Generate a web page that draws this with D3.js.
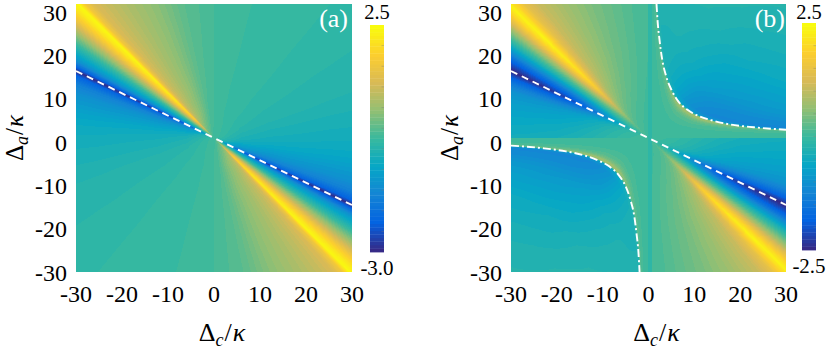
<!DOCTYPE html>
<html lang="en">
<head>
<meta charset="UTF-8">
<title>Delta_a vs Delta_c maps</title>
<script src="https://d3js.org/d3.v7.min.js"></script>
<style>
  body { margin: 0; background: #ffffff; }
</style>
</head>
<body>
<svg width="830" height="349" font-family="'Liberation Serif', 'Times New Roman', 'DejaVu Serif', serif"></svg>
<script>
// ---------- values ----------
var ticks = [-30, -20, -10, 0, 10, 20, 30];
var panelNames = ["(a)", "(b)"];
var cbarA = [-3.0, 2.5], cbarB = [-2.5, 2.5];
var cbarTextA = ["2.5", "-3.0"], cbarTextB = ["2.5", "-2.5"];

// panel (a): value along each direction, phi = atan(Δa/Δc) in degrees
var phiA = [-90, -80, -75, -68, -58, -52, -49, -47, -45.5, -44, -42, -40, -37.5, -35, -32, -30, -28, -26.6, -25, -22, -18, -10, -5, 0, 18, 34, 45, 58, 75, 80, 90];
var valA = [-0.12, -0.05, 0.1, 0.36, 0.68, 0.95, 1.15, 1.6, 2.45, 2.2, 1.7, 1.1, 0.4, -0.25, -0.9, -1.4, -2.2, -3.0, -2.3, -1.75, -1.4, -1.0, -0.85, -0.75, -0.52, -0.42, -0.36, -0.3, -0.25, -0.2, -0.2];
var radA = [0, 3, 6, 12, 25, 45];
var keepA = [0, 0.45, 0.75, 0.9, 0.97, 1];
var midA = -0.2;

// panel (b), quadrants Δc·Δa < 0: value along direction + fade to the middle
var phiB = [-90, -85, -78, -68, -59, -55, -51, -48, -46, -44.5, -43, -41, -39, -37, -35, -33, -31, -29, -26.6, -24.5, -22, -19, -15, -8, 0];
var valB = [0.08, 0.12, 0.25, 0.45, 0.72, 0.9, 1.1, 1.45, 1.95, 2.35, 2.0, 1.4, 0.75, 0.2, -0.3, -0.9, -1.5, -2.0, -2.5, -1.9, -1.4, -1.0, -0.8, -0.6, -0.45];
var radB = [0, 4, 8, 12, 16, 20, 26, 32, 45];
var keepB = [0, 0.1, 0.3, 0.55, 0.75, 0.88, 0.96, 1, 1];
var midB = 0.05;

// panel (b), quadrants Δc·Δa > 0: value across the hyperbola, q = Δc·Δa / 54
var hypK = 54;
var qB = [0, 0.4, 0.65, 0.8, 0.9, 0.97, 1.0, 1.04, 1.25, 2, 3, 4.5, 7, 11, 17];
var hB = [0.05, 0.08, 0.2, 0.45, 0.75, 0.6, 0.0, -0.9, -1.2, -1.1, -0.9, -0.75, -0.55, -0.4, -0.28];
var psiB = [0, 4, 8, 15, 20, 30, 35, 45, 60, 75, 90];
var insideB = [0.2, 0.35, 0.6, 0.9, 1, 1, 1, 1, 0.7, 0.35, 0.2];
var outsideB = [1, 1, 1, 1, 1, 0.95, 0.9, 0.8, 0.55, 0.35, 0.25];
var stripeB = [0, 0.8], stripeVal = -0.1;

// white lines
var dashC = [-30, 30], dashA = [15, -15];
var hypUpC = [1.75, 2.0, 2.4, 3.0, 3.8, 5.0, 6.5, 8.5, 11, 14, 18, 23, 30];
var hypUpA = [30, 26, 22, 17.5, 14, 10.8, 8.2, 6.3, 4.9, 3.9, 3.0, 2.4, 1.85];
var hypLoC = [-30, -23, -18, -14, -11, -8.5, -6.5, -5.0, -3.9, -3.1, -2.6, -2.2, -1.95];
var hypLoA = [-1.7, -2.3, -3.0, -3.9, -5.0, -6.4, -8.3, -10.8, -14, -17.5, -21.5, -25.5, -30];

var parula = ["#352a87", "#0363e1", "#1485d4", "#06a7c6", "#38b99e", "#92bf73", "#d9ba56", "#fcce2e", "#f9fb0e"];

// ---------- setup ----------
var svg = d3.select("svg");
var ramp = d3.quantize(d3.piecewise(d3.interpolateRgb, parula), 64);
var rampRgb = ramp.map(function (c) { return d3.rgb(c); });

var profA = d3.scaleLinear().domain(phiA).range(valA).clamp(true);
var fadeA = d3.scaleLinear().domain(radA).range(keepA).clamp(true);
var profB = d3.scaleLinear().domain(phiB).range(valB).clamp(true);
var fadeB = d3.scaleLinear().domain(radB).range(keepB).clamp(true);
var hypB = d3.scaleLinear().domain(qB).range(hB).clamp(true);
var inAmp = d3.scaleLinear().domain(psiB).range(insideB).clamp(true);
var outAmp = d3.scaleLinear().domain(psiB).range(outsideB).clamp(true);

function dirAngle(dc, da) {
    if (dc === 0) return da >= 0 ? 90 : -90;
    return Math.atan(da / dc) * 180 / Math.PI;
}

function valueA(dc, da) {
    var r = Math.hypot(dc, da);
    return midA + fadeA(r) * (profA(dirAngle(dc, da)) - midA);
}

function valueB(dc, da) {
    if (dc >= stripeB[0] && dc <= stripeB[1]) return stripeVal;
    var r = Math.hypot(dc, da);
    if (dc * da <= 0) {
        return midB + fadeB(r) * (profB(dirAngle(dc, da)) - midB);
    }
    var q = dc * da / hypK;
    var psi = Math.atan(Math.abs(da) / Math.abs(dc)) * 180 / Math.PI;
    var amp = q < 1 ? inAmp(psi) : outAmp(psi);
    return midB + amp * (hypB(q) - midB);
}

var panels = [
    { name: panelNames[0], x0: 76, x1: 352, cb: cbarA, cbText: cbarTextA, cbx: 370, cby: [252, 25], value: valueA, labelEnd: 348 },
    { name: panelNames[1], x0: 511, x1: 786, cb: cbarB, cbText: cbarTextB, cbx: 802, cby: [250, 23], value: valueB, labelEnd: 785 }
];
var plotTop = 4, plotBottom = 272;

panels.forEach(function (p, k) {
    var x = d3.scaleLinear().domain([-30, 30]).range([p.x0, p.x1]);
    var y = d3.scaleLinear().domain([-30, 30]).range([plotBottom, plotTop]);
    var yTick = d3.scaleLinear().domain([-30, 30]).range([272.5, 12.8]);
    var color = d3.scaleQuantize().domain(p.cb).range(d3.range(64));
    var g = svg.append("g");

    // map cells, one per screen pixel
    var w = p.x1 - p.x0, h = plotBottom - plotTop;
    var canvas = document.createElement("canvas");
    canvas.width = w; canvas.height = h;
    var ctx = canvas.getContext("2d");
    var img = ctx.createImageData(w, h);
    for (var j = 0; j < h; j++) {
        var da = y.invert(plotTop + j + 0.5);
        for (var i = 0; i < w; i++) {
            var dc = x.invert(p.x0 + i + 0.5);
            var c = rampRgb[color(p.value(dc, da))];
            var o = (j * w + i) * 4;
            img.data[o] = c.r; img.data[o + 1] = c.g; img.data[o + 2] = c.b; img.data[o + 3] = 255;
        }
    }
    ctx.putImageData(img, 0, 0);
    g.append("image")
        .attr("x", p.x0).attr("y", plotTop)
        .attr("width", w).attr("height", h)
        .attr("href", canvas.toDataURL());

    var clipId = "clip" + k;
    svg.append("clipPath").attr("id", clipId)
        .append("rect").attr("x", p.x0).attr("y", plotTop).attr("width", w).attr("height", h);

    var line = d3.line()
        .x(function (d) { return x(d[0]); })
        .y(function (d) { return y(d[1]); });

    g.append("path")
        .attr("clip-path", "url(#" + clipId + ")")
        .attr("d", line(d3.zip(dashC, dashA)))
        .attr("fill", "none").attr("stroke", "#ffffff")
        .attr("stroke-width", 1.9).attr("stroke-dasharray", "7,5");

    if (k === 1) {
        var curve = line.curve(d3.curveMonotoneX);
        [d3.zip(hypUpC, hypUpA), d3.zip(hypLoC, hypLoA)].forEach(function (pts) {
            g.append("path")
                .attr("clip-path", "url(#" + clipId + ")")
                .attr("d", curve(pts))
                .attr("fill", "none").attr("stroke", "#ffffff")
                .attr("stroke-width", 1.9).attr("stroke-dasharray", "8,3,2,3");
        });
    }

    // panel tag
    g.append("text")
        .attr("x", p.labelEnd).attr("y", 27)
        .attr("text-anchor", "end")
        .attr("font-size", 26)
        .attr("fill", "#ffffff")
        .text(p.name);

    // tick labels
    g.selectAll(".xt").data(ticks).enter().append("text")
        .attr("x", function (d) { return x(d); })
        .attr("y", 302)
        .attr("text-anchor", "middle")
        .attr("font-size", 24)
        .text(function (d) { return d; });

    g.selectAll(".yt").data(ticks).enter().append("text")
        .attr("x", p.x0 - 9)
        .attr("y", function (d) { return yTick(d) + 8; })
        .attr("text-anchor", "end")
        .attr("font-size", 24)
        .text(function (d) { return d; });

    // axis titles
    var xt = g.append("text")
        .attr("x", (p.x0 + p.x1) / 2 + 8).attr("y", 341)
        .attr("text-anchor", "middle")
        .attr("font-size", 26);
    mathLabel(xt, "c");

    var yt = g.append("text")
        .attr("transform", "translate(" + (p.x0 - 53.5) + "," + ((plotTop + plotBottom) / 2) + ") rotate(-90)")
        .attr("text-anchor", "middle")
        .attr("font-size", 25);
    mathLabel(yt, "a");

    // colorbar
    var cy = d3.scaleLinear().domain(p.cb).range(p.cby);
    var step = (p.cb[1] - p.cb[0]) / 64;
    g.selectAll(".cb").data(d3.range(64)).enter().append("rect")
        .attr("x", p.cbx).attr("width", 14)
        .attr("y", function (d) { return cy(p.cb[0] + (d + 1) * step); })
        .attr("height", function (d) { return cy(p.cb[0] + d * step) - cy(p.cb[0] + (d + 1) * step) + 0.4; })
        .attr("fill", function (d) { return ramp[d]; });

    var cbTicks = d3.range(Math.ceil(p.cb[0] * 2 + 0.01) / 2, p.cb[1] - 0.01, 0.5);
    g.selectAll(".cbt").data(cbTicks).enter().append("line")
        .attr("x1", p.cbx + 14).attr("x2", p.cbx + 11.5)
        .attr("y1", function (d) { return cy(d); })
        .attr("y2", function (d) { return cy(d); })
        .attr("stroke", "#7a7a7a").attr("stroke-opacity", 0.45).attr("stroke-width", 0.8);

    g.append("text")
        .attr("x", p.cbx + 7).attr("y", 18.5)
        .attr("text-anchor", "middle").attr("font-size", 20.5)
        .text(p.cbText[0]);
    g.append("text")
        .attr("x", p.cbx + 7).attr("y", p.cby[0] + 23)
        .attr("text-anchor", "middle").attr("font-size", 21)
        .text(p.cbText[1]);
});

function mathLabel(sel, sub) {
    sel.append("tspan").text("\u0394");
    sel.append("tspan").attr("font-style", "italic").attr("font-size", 18).attr("dy", 5).text(sub);
    sel.append("tspan").attr("dy", -5).attr("dx", 1).text("/");
    sel.append("tspan").attr("font-style", "italic").attr("dx", 1).text("\u03ba");
}
</script>
</body>
</html>
